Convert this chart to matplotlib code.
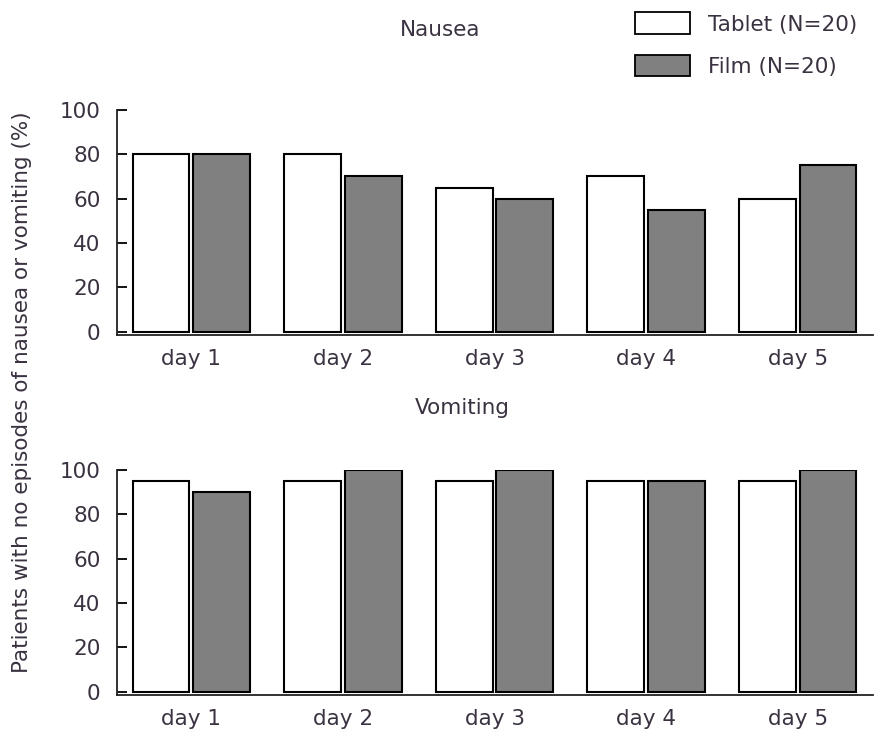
import matplotlib
matplotlib.use("Agg")
import matplotlib.pyplot as plt
import numpy as np
from matplotlib.patches import Patch

days = ["day 1", "day 2", "day 3", "day 4", "day 5"]
nausea_tablet = [80, 80, 65, 70, 60]
nausea_film = [80, 70, 60, 55, 75]
vomit_tablet = [95, 95, 95, 95, 95]
vomit_film = [90, 100, 100, 95, 100]
series_labels = ["Tablet (N=20)", "Film (N=20)"]
yticks = [0, 20, 40, 60, 80, 100]

plt.rcParams['font.family'] = ['DejaVu Sans']
txt = '#3a3240'
fs = 15.5

fig = plt.figure(figsize=(8.94, 7.33), dpi=100)
ax1 = fig.add_axes([0.131, 0.543, 0.846, 0.307])
ax2 = fig.add_axes([0.131, 0.052, 0.846, 0.307])

x = np.arange(len(days))
w = 0.375
off = 0.2
for ax, t, f in [(ax1, nausea_tablet, nausea_film), (ax2, vomit_tablet, vomit_film)]:
    ax.bar(x - off, t, w, color='white', edgecolor='black', linewidth=1.5)
    ax.bar(x + off, f, w, color='#808080', edgecolor='black', linewidth=1.5)
    ax.set_xlim(-0.49, 4.5)
    ax.set_ylim(-1.5, 100)
    ax.set_yticks(yticks)
    ax.set_xticks(x)
    ax.set_xticklabels(days)
    ax.spines['top'].set_visible(False)
    ax.spines['right'].set_visible(False)
    ax.spines['left'].set_bounds(-1.5, 100)
    for s in ['left', 'bottom']:
        ax.spines[s].set_linewidth(1.3)
        ax.spines[s].set_color('#222222')
    ax.tick_params(axis='y', direction='in', length=7, width=1.3, pad=12,
                   labelsize=fs, labelcolor=txt)
    ax.tick_params(axis='x', length=0, pad=10, labelsize=fs, labelcolor=txt)

fig.text(0.492, 0.959, "Nausea", ha='center', va='center', fontsize=fs, color=txt)
fig.text(0.517, 0.443, "Vomiting", ha='center', va='center', fontsize=fs, color=txt)
fig.text(0.025, 0.465, "Patients with no episodes of nausea or vomiting (%)",
         rotation=90, ha='center', va='center', fontsize=fs, color=txt)

handles = [Patch(facecolor='white', edgecolor='black', linewidth=1.3),
           Patch(facecolor='#808080', edgecolor='black', linewidth=1.3)]
leg = fig.legend(handles, series_labels, loc='upper left',
                 bbox_to_anchor=(0.710, 0.983), frameon=False, fontsize=fs,
                 handlelength=2.56, handleheight=1.16, handletextpad=0.84,
                 labelspacing=0.95, borderpad=0, borderaxespad=0)
for t in leg.get_texts():
    t.set_color(txt)

fig.savefig("out.png", dpi=100)
